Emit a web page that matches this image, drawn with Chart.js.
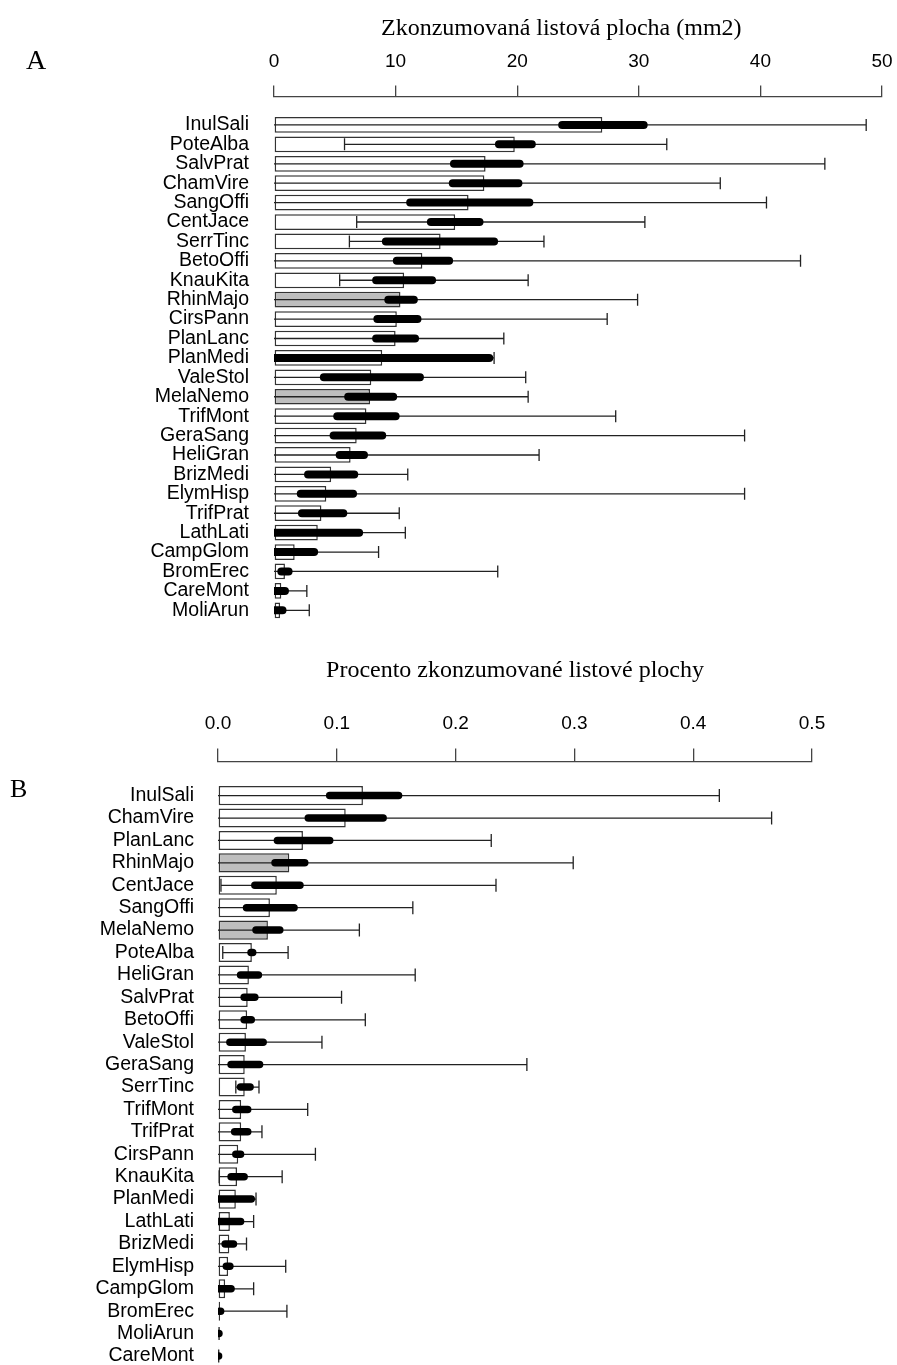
<!DOCTYPE html>
<html>
<head>
<meta charset="utf-8">
<script src="https://cdn.jsdelivr.net/npm/chart.js@4.4.0/dist/chart.umd.min.js"></script>
<style>
  html, body { margin:0; padding:0; background:#fff; width:897px; height:1365px; overflow:hidden; }
  .wrap { position:absolute; left:0; width:897px; }
  #wa { top:0; height:620px; }
  #wb { top:640px; height:725px; }
  .serif { position:absolute; font-family:"Liberation Serif", "Times New Roman", serif; color:#000; white-space:nowrap; }
</style>
</head>
<body>
<div id="wa" class="wrap"><canvas id="ca" width="897" height="620"></canvas></div>
<div id="wb" class="wrap"><canvas id="cb" width="897" height="725"></canvas></div>
<div id="titleA" class="serif" style="left:381px; top:13px; font-size:24px; line-height:28.8px;"></div>
<div class="serif" style="left:26px; top:46px; font-size:28px; line-height:28px;">A</div>
<div class="serif" style="left:10px; top:776px; font-size:26px; line-height:26px;">B</div>
<script>
// ---------- Panel A: consumed leaf area (mm2) ----------
const titleA = "Zkonzumovaná listová plocha (mm2)";
const ticksA = [0, 10, 20, 30, 40, 50];
const tickLabelsA = ["0", "10", "20", "30", "40", "50"];
const speciesA = ["InulSali","PoteAlba","SalvPrat","ChamVire","SangOffi","CentJace","SerrTinc","BetoOffi","KnauKita","RhinMajo","CirsPann","PlanLanc","PlanMedi","ValeStol","MelaNemo","TrifMont","GeraSang","HeliGran","BrizMedi","ElymHisp","TrifPrat","LathLati","CampGlom","BromErec","CareMont","MoliArun"];
const meanA   = [27.0, 19.8, 17.4, 17.3, 16.0, 14.9, 13.7, 12.2, 10.7, 10.4, 10.1, 10.0, 8.9, 8.0, 7.9, 7.6, 6.8, 6.3, 4.7, 4.3, 3.9, 3.6, 1.7, 0.9, 0.6, 0.5];
const seLowA  = [23.7, 18.5, 14.8, 14.7, 11.2, 12.9, 9.2, 10.1, 8.4, 9.4, 8.5, 8.4, 0, 4.1, 6.1, 5.2, 4.9, 5.4, 2.8, 2.2, 2.3, 0, 0, 0.6, 0, 0];
const seHighA = [30.4, 21.2, 20.2, 20.1, 21.0, 16.9, 18.1, 14.4, 13.0, 11.5, 11.8, 11.6, 17.7, 12.0, 9.8, 10.0, 8.9, 7.4, 6.6, 6.5, 5.7, 7.0, 3.3, 1.2, 0.9, 0.7];
const ciLowA  = [0, 5.8, 0, 0, 0, 6.8, 6.2, 0, 5.4, 0, 0, 0, 0, 0, 0, 0, 0, 0, 0, 0, 0, 0, 0, 0, 0, 0];
const ciHighA = [48.7, 32.3, 45.3, 36.7, 40.5, 30.5, 22.2, 43.3, 20.9, 29.9, 27.4, 18.9, 18.1, 20.7, 20.9, 28.1, 38.7, 21.8, 11.0, 38.7, 10.3, 10.8, 8.6, 18.4, 2.7, 2.9];

// ---------- Panel B: proportion of consumed leaf area ----------
const titleB = "Procento zkonzumované listové plochy";
const ticksB = [0, 0.1, 0.2, 0.3, 0.4, 0.5];
const tickLabelsB = ["0.0", "0.1", "0.2", "0.3", "0.4", "0.5"];
const speciesB = ["InulSali","ChamVire","PlanLanc","RhinMajo","CentJace","SangOffi","MelaNemo","PoteAlba","HeliGran","SalvPrat","BetoOffi","ValeStol","GeraSang","SerrTinc","TrifMont","TrifPrat","CirsPann","KnauKita","PlanMedi","LathLati","BrizMedi","ElymHisp","CampGlom","BromErec","MoliArun","CareMont"];
const meanB   = [0.122, 0.1075, 0.0715, 0.060, 0.0495, 0.0437, 0.042, 0.0285, 0.026, 0.025, 0.0245, 0.0235, 0.0225, 0.0225, 0.0195, 0.0195, 0.017, 0.016, 0.015, 0.010, 0.0095, 0.0085, 0.006, 0.0017, 0.0006, 0.0004];
const seLowB  = [0.094, 0.076, 0.050, 0.048, 0.031, 0.024, 0.032, 0.0278, 0.019, 0.022, 0.022, 0.010, 0.011, 0.019, 0.015, 0.014, 0.015, 0.011, 0, 0, 0.006, 0.007, 0, 0.0015, 0, 0];
const seHighB = [0.152, 0.139, 0.094, 0.073, 0.069, 0.064, 0.052, 0.0292, 0.034, 0.031, 0.028, 0.038, 0.035, 0.027, 0.025, 0.025, 0.019, 0.022, 0.028, 0.019, 0.013, 0.010, 0.011, 0.0022, 0.0008, 0.0005];
const ciLowB  = [0, 0, 0, 0, 0.0025, 0, 0, 0.004, 0, 0, 0, 0, 0, 0.015, 0, 0, 0, 0.001, 0, 0, 0, 0, 0, 0, 0, 0];
const ciHighB = [0.422, 0.466, 0.230, 0.299, 0.234, 0.164, 0.119, 0.059, 0.166, 0.104, 0.124, 0.0875, 0.26, 0.0345, 0.0755, 0.037, 0.082, 0.054, 0.032, 0.030, 0.024, 0.057, 0.030, 0.058, 0.0009, 0.0006];

// hemiparasites drawn with grey bars
const greyed = ["RhinMajo", "MelaNemo"];

document.getElementById('titleA').textContent = titleA;

Chart.defaults.font.family = "'Liberation Sans', Arial, sans-serif";
Chart.defaults.color = "#000";

function whiskerPlugin(d, st) {
  return {
    id: 'whiskers',
    afterDatasetsDraw(chart) {
      const { ctx, chartArea: ca, scales: { x, y } } = chart;
      ctx.save();
      ctx.beginPath();
      ctx.rect(ca.left, ca.top, ca.right - ca.left + 30, ca.bottom - ca.top);
      ctx.clip();
      d.names.forEach((n, i) => {
        const yc = y.getPixelForValue(i);
        const xl = x.getPixelForValue(d.ciLow[i]);
        const xh = x.getPixelForValue(d.ciHigh[i]);
        ctx.strokeStyle = st.thinColor;
        ctx.lineWidth = st.thin;
        ctx.lineCap = 'butt';
        ctx.beginPath();
        ctx.moveTo(xl, yc); ctx.lineTo(xh, yc);
        ctx.moveTo(xh, yc - st.cap); ctx.lineTo(xh, yc + st.cap);
        if (d.ciLow[i] > 0) { ctx.moveTo(xl, yc - st.cap); ctx.lineTo(xl, yc + st.cap); }
        ctx.stroke();
        ctx.strokeStyle = '#000';
        ctx.lineWidth = st.thick;
        ctx.lineCap = 'round';
        ctx.beginPath();
        ctx.moveTo(x.getPixelForValue(d.seLow[i]), yc);
        ctx.lineTo(x.getPixelForValue(d.seHigh[i]), yc);
        ctx.stroke();
      });
      ctx.restore();
    }
  };
}

function makeChart(id, d, L) {
  return new Chart(document.getElementById(id), {
    type: 'bar',
    data: {
      datasets: [{
        data: d.mean.map((v, i) => ({ x: v, y: i })),
        backgroundColor: d.names.map(n => greyed.includes(n) ? '#bebebe' : '#ffffff'),
        borderColor: '#333',
        borderWidth: 1.5,
        borderSkipped: false,
        categoryPercentage: 1,
        barPercentage: L.barPct
      }]
    },
    options: {
      indexAxis: 'y',
      responsive: false,
      maintainAspectRatio: false,
      animation: false,
      layout: { autoPadding: false, padding: { left: 0, right: L.padRight, top: 0, bottom: 0 } },
      plugins: { legend: { display: false }, tooltip: { enabled: false } },
      scales: {
        x: {
          type: 'linear', position: 'top', min: d.ticks[0], max: d.ticks[d.ticks.length - 1],
          afterBuildTicks: s => { s.ticks = d.ticks.map(v => ({ value: v })); },
          ticks: { callback: (v, i) => d.tickLabels[i], font: { size: 19 }, color: '#000', padding: L.tickPad, maxRotation: 0, autoSkip: false },
          grid: { drawOnChartArea: false, drawTicks: true, tickLength: L.tickLen, color: '#444', lineWidth: 1.3 },
          border: { display: true, color: '#444', width: 1.3 },
          title: { display: L.showTitle, text: d.title, font: { family: "'Liberation Serif', 'Times New Roman', serif", size: 24 }, color: '#000', padding: { top: L.titlePad, bottom: 0 } },
          afterFit: s => { s.height = L.axisY; s.paddingLeft = 0; s.paddingRight = 0; }
        },
        y: {
          type: 'linear', min: L.yMin, max: L.yMax, reverse: true, offset: false,
          afterBuildTicks: s => { s.ticks = d.names.map((_, i) => ({ value: i })); },
          ticks: { callback: (v, i) => d.names[i], font: { size: 19.5 }, color: '#000', padding: L.labelPad, autoSkip: false },
          grid: { display: false, drawTicks: false, offset: false },
          border: { display: false },
          afterFit: s => { s.width = L.plotLeft; s.paddingTop = 0; s.paddingBottom = 0; }
        }
      }
    },
    plugins: [whiskerPlugin(d, L)]
  });
}

makeChart('ca', {
  names: speciesA, mean: meanA, seLow: seLowA, seHigh: seHighA, ciLow: ciLowA, ciHigh: ciHighA,
  ticks: ticksA, tickLabels: tickLabelsA, title: titleA
}, { axisY: 97, plotLeft: 274, padRight: 15, tickLen: 11.5, tickPad: 12.6, titlePad: 10.6, labelPad: 25, showTitle: false,
     yMin: -1.44, yMax: 25.5, barPct: 0.81, cap: 6, thin: 1.3, thick: 8, thinColor: '#222' });

makeChart('cb', {
  names: speciesB, mean: meanB, seLow: seLowB, seHigh: seHighB, ciLow: ciLowB, ciHigh: ciHighB,
  ticks: ticksB, tickLabels: tickLabelsB, title: titleB
}, { axisY: 122, plotLeft: 218, padRight: 85, tickLen: 13.5, tickPad: 13.6, titlePad: 16.6, labelPad: 24, showTitle: true,
     yMin: -1.5, yMax: 25.4, barPct: 0.85, cap: 6.5, thin: 1.3, thick: 7.5, thinColor: '#222' });
</script>
</body>
</html>
